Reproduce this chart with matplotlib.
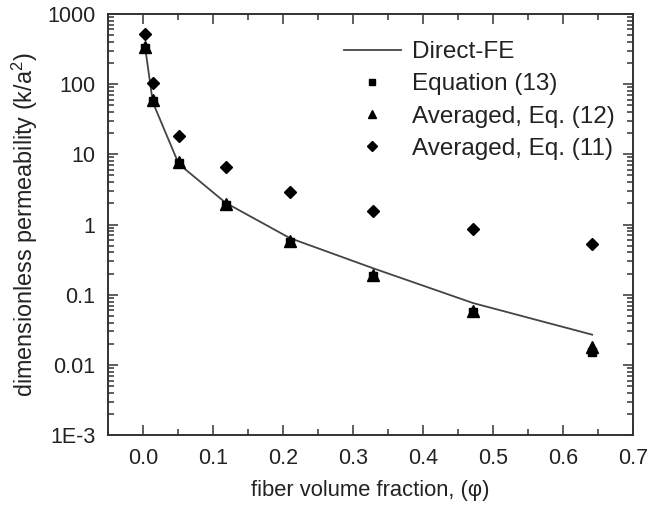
import numpy as np
import matplotlib
matplotlib.use('Agg')
import matplotlib.pyplot as plt
from matplotlib.ticker import FixedLocator, LogLocator, MultipleLocator, NullFormatter

plt.rcParams['font.family'] = ['Liberation Sans', 'DejaVu Sans']
plt.rcParams['mathtext.fontset'] = 'custom'
plt.rcParams['mathtext.rm'] = 'Liberation Sans'
plt.rcParams['mathtext.it'] = 'Liberation Sans'

# fiber volume fraction values
phi = [0.003, 0.014, 0.051, 0.118, 0.21, 0.328, 0.472, 0.642]

# Direct-FE curve
direct_fe = [335, 55, 7.3, 2.04, 0.64, 0.24, 0.076, 0.027]
# Equation (13)
eq13 = [325, 57, 7.5, 1.9, 0.57, 0.185, 0.057, 0.0153]
# Averaged, Eq. (12)
eq12 = [339, 60, 7.8, 1.97, 0.59, 0.19, 0.059, 0.018]
# Averaged, Eq. (11)
eq11 = [518, 104, 18, 6.6, 2.9, 1.56, 0.865, 0.53]

ytick_vals = [1e-3, 1e-2, 1e-1, 1, 10, 100, 1000]
ytick_labels = ['1E-3', '0.01', '0.1', '1', '10', '100', '1000']
xtick_vals = [0.0, 0.1, 0.2, 0.3, 0.4, 0.5, 0.6, 0.7]

txt = '#222222'

fig = plt.figure(figsize=(6.47, 5.12), dpi=100)
ax = fig.add_axes([0.167, 0.150, 0.811, 0.823])

ax.plot(phi, direct_fe, color='#444444', lw=1.3, label='Direct-FE')
ax.plot(phi, eq13, ls='none', marker='s', ms=5.5, color='black', label='Equation (13)')
ax.plot(phi, eq12, ls='none', marker='^', ms=8.5, color='black', label='Averaged, Eq. (12)')
ax.plot(phi, eq11, ls='none', marker='D', ms=6.5, color='black', label='Averaged, Eq. (11)')

ax.set_yscale('log')
ax.set_ylim(1e-3, 1000)
ax.set_xlim(-0.05, 0.7)

ax.yaxis.set_major_locator(FixedLocator(ytick_vals))
ax.set_yticklabels(ytick_labels)
ax.yaxis.set_minor_locator(LogLocator(base=10, subs=np.arange(2, 10)))
ax.yaxis.set_minor_formatter(NullFormatter())
ax.set_xticks(xtick_vals)
ax.set_xticklabels(['%.1f' % v for v in xtick_vals])
ax.xaxis.set_minor_locator(MultipleLocator(0.05))

ax.tick_params(which='both', direction='in', top=True, right=True,
               colors='#333333', labelcolor=txt, labelsize=15.5, width=1.1)
ax.tick_params(which='major', length=7, pad=9)
ax.tick_params(which='minor', length=4)
for s in ax.spines.values():
    s.set_color('#333333')
    s.set_linewidth(1.4)

ax.set_xlabel('fiber volume fraction, (φ)', fontsize=15.8, color=txt, labelpad=8)
ax.set_ylabel('dimensionless permeability (k/a$^2$)', fontsize=16.8, color=txt, labelpad=5)

leg = ax.legend(loc='upper right', frameon=False, fontsize=17.5, handlelength=2.35,
                handletextpad=0.45, labelspacing=0.42, borderaxespad=0,
                markerscale=0.75, bbox_to_anchor=(0.984, 0.958))
for t in leg.get_texts():
    t.set_color(txt)

fig.savefig('out.png', dpi=100)
